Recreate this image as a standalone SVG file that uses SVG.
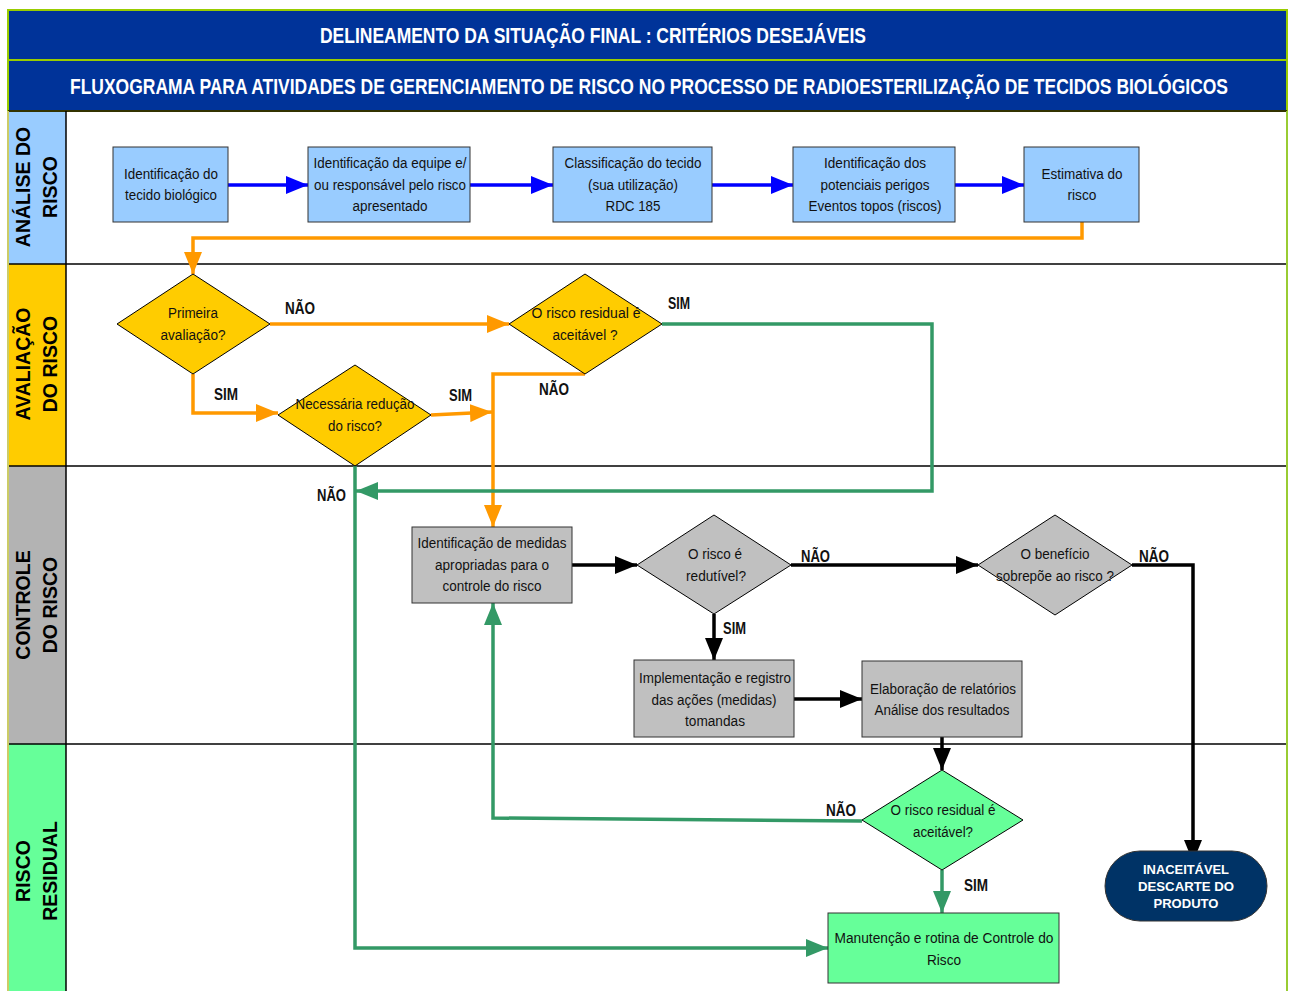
<svg xmlns="http://www.w3.org/2000/svg" width="1292" height="991" viewBox="0 0 1292 991">
  <style>
    .hdr { fill: #003399; stroke: #99cc00; stroke-width: 2; }
    .hdrtxt { font-family: "Liberation Sans", Arial, sans-serif; font-size: 18.5px; font-weight: bold; fill: #ffffff; }
    .lane { font-family: "Liberation Sans", Arial, sans-serif; font-size: 19.5px; font-weight: bold; fill: #000000; }
    .t { font-family: "Liberation Sans", Arial, sans-serif; font-size: 15.5px; fill: #111111; text-anchor: middle; }
    .lbl { font-family: "Liberation Sans", Arial, sans-serif; font-size: 16px; font-weight: bold; fill: #111111; }
    .term { font-family: "Liberation Sans", Arial, sans-serif; font-size: 13px; font-weight: bold; fill: #ffffff; text-anchor: middle; }
    .boxBlue { fill: #99ccff; stroke: #333333; stroke-width: 1; }
    .boxGray { fill: #c0c0c0; stroke: #333333; stroke-width: 1; }
    .boxGreen { fill: #66ff99; stroke: #333333; stroke-width: 1; }
    .dYel { fill: #ffcc00; stroke: #000000; stroke-width: 1; }
    .dGray { fill: #c0c0c0; stroke: #000000; stroke-width: 1; }
    .dGreen { fill: #66ff99; stroke: #000000; stroke-width: 1; }
    .c { fill: none; stroke-width: 3.5; }
    .blue { stroke: #0000ff; marker-end: url(#aBlue); }
    .orange { stroke: #ff9900; marker-end: url(#aOrange); }
    .greenA { stroke: #339966; marker-end: url(#aGreen); }
    .black { stroke: #000000; marker-end: url(#aBlack); }
  </style>
  <defs>
    <marker id="aBlue" markerUnits="userSpaceOnUse" markerWidth="22" markerHeight="18" refX="22" refY="9" orient="auto">
      <path d="M0,0 L22,9 L0,18 z" fill="#0000ff"/>
    </marker>
    <marker id="aOrange" markerUnits="userSpaceOnUse" markerWidth="22" markerHeight="18" refX="22" refY="9" orient="auto">
      <path d="M0,0 L22,9 L0,18 z" fill="#ff9900"/>
    </marker>
    <marker id="aGreen" markerUnits="userSpaceOnUse" markerWidth="22" markerHeight="18" refX="22" refY="9" orient="auto">
      <path d="M0,0 L22,9 L0,18 z" fill="#339966"/>
    </marker>
    <marker id="aBlack" markerUnits="userSpaceOnUse" markerWidth="22" markerHeight="18" refX="22" refY="9" orient="auto">
      <path d="M0,0 L22,9 L0,18 z" fill="#000000"/>
    </marker>
  </defs>

  <rect x="0" y="0" width="1292" height="991" fill="#ffffff"/>

  <!-- title bands: condensed caps, stretched vertically -->
  <g id="header">
    <rect class="hdr" x="8" y="10" width="1279" height="50"/>
    <rect class="hdr" x="8" y="60" width="1279" height="51"/>
    <text class="hdrtxt" transform="translate(320,43) scale(1,1.18)" textLength="546" lengthAdjust="spacingAndGlyphs">DELINEAMENTO DA SITUAÇÃO FINAL : CRITÉRIOS DESEJÁVEIS</text>
    <text class="hdrtxt" transform="translate(70,94) scale(1,1.18)" textLength="1158" lengthAdjust="spacingAndGlyphs">FLUXOGRAMA PARA ATIVIDADES DE GERENCIAMENTO DE RISCO NO PROCESSO DE RADIOESTERILIZAÇÃO DE TECIDOS BIOLÓGICOS</text>
  </g>

  <!-- swimlanes -->
  <g id="lanes">
    <rect x="8" y="111" width="58" height="153" fill="#99ccff"/>
    <rect x="8" y="264" width="58" height="202" fill="#ffcc00"/>
    <rect x="8" y="466" width="58" height="278" fill="#b3b3b3"/>
    <rect x="8" y="744" width="58" height="247" fill="#66ff99"/>
    <line x1="8" y1="111" x2="1287" y2="111" stroke="#333300" stroke-width="2"/>
    <line x1="8" y1="264" x2="1287" y2="264" stroke="#000000" stroke-width="1.5"/>
    <line x1="8" y1="466" x2="1287" y2="466" stroke="#000000" stroke-width="1.5"/>
    <line x1="8" y1="744" x2="1287" y2="744" stroke="#000000" stroke-width="1.5"/>
    <line x1="66" y1="111" x2="66" y2="991" stroke="#000000" stroke-width="1.5"/>
    <line x1="8" y1="111" x2="8" y2="991" stroke="#cccc66" stroke-width="2"/>
    <line x1="1287" y1="111" x2="1287" y2="991" stroke="#99cc33" stroke-width="2"/>
    <text class="lane" transform="translate(37,187) rotate(-90)" text-anchor="middle"><tspan x="0" y="-7">ANÁLISE DO</tspan><tspan x="0" y="20">RISCO</tspan></text>
    <text class="lane" transform="translate(37,364) rotate(-90)" text-anchor="middle"><tspan x="0" y="-7">AVALIAÇÃO</tspan><tspan x="0" y="20">DO RISCO</tspan></text>
    <text class="lane" transform="translate(37,605) rotate(-90)" text-anchor="middle"><tspan x="0" y="-7">CONTROLE</tspan><tspan x="0" y="20">DO RISCO</tspan></text>
    <text class="lane" transform="translate(37,871) rotate(-90)" text-anchor="middle"><tspan x="0" y="-7">RISCO</tspan><tspan x="0" y="20">RESIDUAL</tspan></text>
  </g>

  <!-- connectors -->
  <g id="connectors">
    <path class="c blue" d="M228,185 H308"/>
    <path class="c blue" d="M470,185 H553"/>
    <path class="c blue" d="M712,185 H793"/>
    <path class="c blue" d="M955,185 H1024"/>
    <path class="c orange" d="M1082,222 V238 H193 V274"/>
    <path class="c orange" d="M270,324 H509"/>
    <path class="c orange" d="M193,374 V413 H278"/>
    <path class="c orange" d="M431,415 L492,412"/>
    <path class="c orange" d="M585,374 H493 V527"/>
    <path class="c greenA" d="M662,324 H932 V491 H356"/>
    <path class="c greenA" d="M355,466 V948 H828"/>
    <path class="c black" d="M572,565 H637"/>
    <path class="c black" d="M791,565 H978"/>
    <path class="c black" d="M1132,565 H1193 V862"/>
    <path class="c black" d="M714,614 V660"/>
    <path class="c black" d="M794,699 H862"/>
    <path class="c black" d="M942,737 V770"/>
    <path class="c greenA" d="M862,821 L493,818 V603"/>
    <path class="c greenA" d="M942,870 V913"/>
    <text class="lbl" x="285" y="314" textLength="30" lengthAdjust="spacingAndGlyphs">NÃO</text>
    <text class="lbl" x="668" y="309" textLength="22" lengthAdjust="spacingAndGlyphs">SIM</text>
    <text class="lbl" x="214" y="400" textLength="24" lengthAdjust="spacingAndGlyphs">SIM</text>
    <text class="lbl" x="449" y="401" textLength="23" lengthAdjust="spacingAndGlyphs">SIM</text>
    <text class="lbl" x="539" y="395" textLength="30" lengthAdjust="spacingAndGlyphs">NÃO</text>
    <text class="lbl" x="317" y="501" textLength="29" lengthAdjust="spacingAndGlyphs">NÃO</text>
    <text class="lbl" x="801" y="562" textLength="29" lengthAdjust="spacingAndGlyphs">NÃO</text>
    <text class="lbl" x="723" y="634" textLength="23" lengthAdjust="spacingAndGlyphs">SIM</text>
    <text class="lbl" x="1139" y="562" textLength="30" lengthAdjust="spacingAndGlyphs">NÃO</text>
    <text class="lbl" x="826" y="816" textLength="30" lengthAdjust="spacingAndGlyphs">NÃO</text>
    <text class="lbl" x="964" y="891" textLength="24" lengthAdjust="spacingAndGlyphs">SIM</text>
  </g>

  <!-- lane 1: análise -->
  <g id="n_tecido">
    <rect class="boxBlue" x="113" y="147" width="115" height="75"/>
    <text class="t" x="171" y="179" textLength="94" lengthAdjust="spacingAndGlyphs">Identificação do</text>
    <text class="t" x="171" y="200" textLength="92" lengthAdjust="spacingAndGlyphs">tecido biológico</text>
  </g>
  <g id="n_equipe">
    <rect class="boxBlue" x="308" y="147" width="162" height="75"/>
    <text class="t" x="390" y="168" textLength="153" lengthAdjust="spacingAndGlyphs">Identificação da equipe e/</text>
    <text class="t" x="390" y="190" textLength="152" lengthAdjust="spacingAndGlyphs">ou responsável pelo risco</text>
    <text class="t" x="390" y="211" textLength="75" lengthAdjust="spacingAndGlyphs">apresentado</text>
  </g>
  <g id="n_classificacao">
    <rect class="boxBlue" x="553" y="147" width="159" height="75"/>
    <text class="t" x="633" y="168" textLength="137" lengthAdjust="spacingAndGlyphs">Classificação do tecido</text>
    <text class="t" x="633" y="190" textLength="90" lengthAdjust="spacingAndGlyphs">(sua utilização)</text>
    <text class="t" x="633" y="211" textLength="55" lengthAdjust="spacingAndGlyphs">RDC 185</text>
  </g>
  <g id="n_perigos">
    <rect class="boxBlue" x="793" y="147" width="162" height="75"/>
    <text class="t" x="875" y="168" textLength="102" lengthAdjust="spacingAndGlyphs">Identificação dos</text>
    <text class="t" x="875" y="190" textLength="109" lengthAdjust="spacingAndGlyphs">potenciais perigos</text>
    <text class="t" x="875" y="211" textLength="133" lengthAdjust="spacingAndGlyphs">Eventos topos (riscos)</text>
  </g>
  <g id="n_estimativa">
    <rect class="boxBlue" x="1024" y="147" width="115" height="75"/>
    <text class="t" x="1082" y="179" textLength="81" lengthAdjust="spacingAndGlyphs">Estimativa do</text>
    <text class="t" x="1082" y="200" textLength="29" lengthAdjust="spacingAndGlyphs">risco</text>
  </g>

  <!-- lane 2: avaliação -->
  <g id="n_primeira">
    <polygon class="dYel" points="193,274 270,324 193,374 117,324"/>
    <text class="t" x="193" y="318" textLength="50" lengthAdjust="spacingAndGlyphs">Primeira</text>
    <text class="t" x="193" y="340" textLength="65" lengthAdjust="spacingAndGlyphs">avaliação?</text>
  </g>
  <g id="n_aceitavel1">
    <polygon class="dYel" points="585,274 662,324 585,374 509,324"/>
    <text class="t" x="586" y="318" textLength="109" lengthAdjust="spacingAndGlyphs">O risco residual  é</text>
    <text class="t" x="585" y="340" textLength="65" lengthAdjust="spacingAndGlyphs">aceitável ?</text>
  </g>
  <g id="n_reducao">
    <polygon class="dYel" points="355,365 431,415 355,466 278,415"/>
    <text class="t" x="355" y="409" textLength="119" lengthAdjust="spacingAndGlyphs">Necessária redução</text>
    <text class="t" x="355" y="431" textLength="54" lengthAdjust="spacingAndGlyphs">do risco?</text>
  </g>

  <!-- lane 3: controle -->
  <g id="n_medidas">
    <rect class="boxGray" x="412" y="527" width="160" height="76"/>
    <text class="t" x="492" y="548" textLength="149" lengthAdjust="spacingAndGlyphs">Identificação de medidas</text>
    <text class="t" x="492" y="570" textLength="114" lengthAdjust="spacingAndGlyphs">apropriadas para o</text>
    <text class="t" x="492" y="591" textLength="99" lengthAdjust="spacingAndGlyphs">controle do risco</text>
  </g>
  <g id="n_redutivel">
    <polygon class="dGray" points="714,515 791,565 714,614 637,565"/>
    <text class="t" x="715" y="559" textLength="54" lengthAdjust="spacingAndGlyphs">O risco é</text>
    <text class="t" x="716" y="581" textLength="60" lengthAdjust="spacingAndGlyphs">redutível?</text>
  </g>
  <g id="n_beneficio">
    <polygon class="dGray" points="1055,515 1132,565 1055,615 978,565"/>
    <text class="t" x="1055" y="559" textLength="69" lengthAdjust="spacingAndGlyphs">O benefício</text>
    <text class="t" x="1055" y="581" textLength="118" lengthAdjust="spacingAndGlyphs">sobrepõe ao risco ?</text>
  </g>
  <g id="n_implementacao">
    <rect class="boxGray" x="634" y="660" width="160" height="77"/>
    <text class="t" x="715" y="683" textLength="152" lengthAdjust="spacingAndGlyphs">Implementação e registro</text>
    <text class="t" x="714" y="705" textLength="125" lengthAdjust="spacingAndGlyphs">das ações (medidas)</text>
    <text class="t" x="715" y="726" textLength="60" lengthAdjust="spacingAndGlyphs">tomandas</text>
  </g>
  <g id="n_relatorios">
    <rect class="boxGray" x="862" y="661" width="160" height="76"/>
    <text class="t" x="943" y="694" textLength="146" lengthAdjust="spacingAndGlyphs">Elaboração de relatórios</text>
    <text class="t" x="942" y="715" textLength="135" lengthAdjust="spacingAndGlyphs">Análise dos resultados</text>
  </g>

  <!-- lane 4: risco residual -->
  <g id="n_aceitavel2">
    <polygon class="dGreen" points="942,770 1023,820 942,870 862,820"/>
    <text class="t" x="943" y="815" textLength="105" lengthAdjust="spacingAndGlyphs">O risco residual é</text>
    <text class="t" x="943" y="837" textLength="60" lengthAdjust="spacingAndGlyphs">aceitável?</text>
  </g>
  <g id="n_manutencao">
    <rect class="boxGreen" x="828" y="913" width="231" height="70"/>
    <text class="t" x="944" y="943" textLength="219" lengthAdjust="spacingAndGlyphs">Manutenção e rotina  de Controle do</text>
    <text class="t" x="944" y="965" textLength="34" lengthAdjust="spacingAndGlyphs">Risco</text>
  </g>
  <g id="n_inaceitavel">
    <rect x="1105" y="851" width="162" height="70" rx="35" ry="35" fill="#003366" stroke="#333333" stroke-width="1"/>
    <text class="term" x="1186" y="874" textLength="86" lengthAdjust="spacingAndGlyphs">INACEITÁVEL</text>
    <text class="term" x="1186" y="891" textLength="96" lengthAdjust="spacingAndGlyphs">DESCARTE DO</text>
    <text class="term" x="1186" y="908" textLength="65" lengthAdjust="spacingAndGlyphs">PRODUTO</text>
  </g>
</svg>
